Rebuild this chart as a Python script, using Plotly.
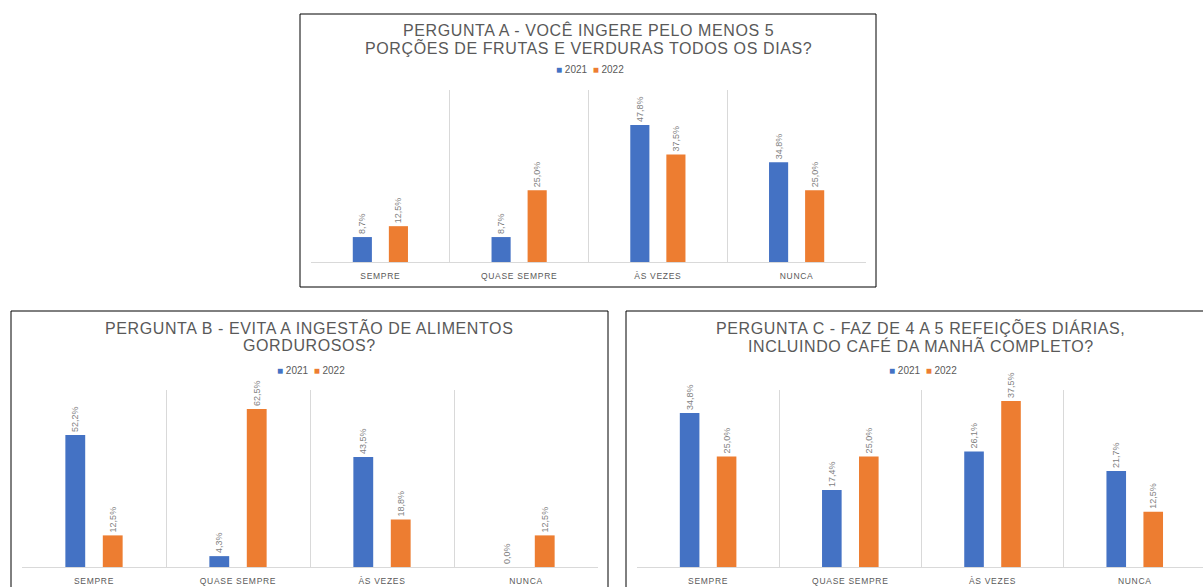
import plotly.graph_objects as go

# Survey answers (% of respondents) per question, 2021 vs 2022
categories = ["SEMPRE", "QUASE SEMPRE", "ÀS VEZES", "NUNCA"]

a_2021 = [8.7, 8.7, 47.8, 34.8]
a_2022 = [12.5, 25.0, 37.5, 25.0]

b_2021 = [52.2, 4.3, 43.5, 0.0]
b_2022 = [12.5, 62.5, 18.8, 12.5]

c_2021 = [34.8, 17.4, 26.1, 21.7]
c_2022 = [25.0, 25.0, 37.5, 12.5]

titles = {
    "A": ["PERGUNTA A - VOCÊ INGERE PELO MENOS 5",
          "PORÇÕES DE FRUTAS E VERDURAS TODOS OS DIAS?"],
    "B": ["PERGUNTA B - EVITA A INGESTÃO DE ALIMENTOS",
          "GORDUROSOS?"],
    "C": ["PERGUNTA C - FAZ DE 4 A 5 REFEIÇÕES DIÁRIAS,",
          "INCLUINDO CAFÉ DA MANHÃ COMPLETO?"],
}

W, H = 1203, 587
BLUE, ORANGE = "#4472C4", "#ED7D31"
GRID = "#D9D9D9"
TEXT = "#595959"
FONT = "Liberation Sans"


def px(x):
    return x / W


def py(y):
    return 1 - y / H


def pct(v):
    return f"{v:.1f}%".replace(".", ",")


def spaced(s, amount):
    return f"<span style='letter-spacing:{amount}px'>{s}</span>"


fig = go.Figure()

panels = [
    # key, series, axis suffix, x-domain px, y-domain px (bottom, top), y max,
    # frame box, title centre x, title line y's, legend y, x range
    ("A", (a_2021, a_2022), "", (311, 866), (262, 90), 60,
     (300, 14, 876, 287), 588, (30, 48), 70, (-0.5, 3.5)),
    ("B", (b_2021, b_2022), "2", (22, 598), (567, 390), 70,
     (11, 311, 608, 595), 309, (327, 345), 370, (-0.5, 3.5)),
    ("C", (c_2021, c_2022), "3", (637, 1203), (567, 390), 40,
     (626, 311, 1215, 595), 921, (327, 345), 370, (-0.5, 3.48)),
]

shapes = []
annotations = []

for key, (s21, s22), sfx, xd, yd, ymax, box, tcx, tys, ly, xr in panels:
    xa, ya = "x" + sfx, "y" + sfx
    for name, vals, col in (("2021", s21, BLUE), ("2022", s22, ORANGE)):
        fig.add_trace(go.Bar(
            x=categories, y=vals, name=name, xaxis=xa, yaxis=ya,
            marker=dict(color=col, line=dict(width=0)),
            text=[pct(v) for v in vals], textposition="outside",
            textangle=-90, constraintext="none", cliponaxis=False,
            textfont=dict(family=FONT, size=9, color="#7F7F7F"),
            showlegend=False,
        ))
    fig.update_layout(**{
        "xaxis" + sfx: dict(
            domain=[px(xd[0]), px(xd[1])], anchor=ya, range=list(xr),
            type="category", tickson="boundaries", showgrid=True,
            gridcolor=GRID, gridwidth=1, showline=True, linecolor=GRID,
            linewidth=1, ticks="", zeroline=False,
            tickvals=categories,
            ticktext=[spaced(c, 0.7) for c in categories],
            ticklabelstandoff=6,
            tickfont=dict(family=FONT, size=8.5, color=TEXT),
            fixedrange=True,
        ),
        "yaxis" + sfx: dict(
            domain=[py(yd[0]), py(yd[1])], anchor=xa, range=[0, ymax],
            showgrid=False, showticklabels=False, zeroline=False,
            showline=False, fixedrange=True,
        ),
    })
    shapes.append(dict(
        type="rect", xref="paper", yref="paper",
        x0=px(box[0]), x1=px(box[2]), y0=py(box[3]), y1=py(box[1]),
        line=dict(color="#000000", width=1), layer="below",
    ))
    for line, ty in zip(titles[key], tys):
        annotations.append(dict(
            text=spaced(line, 0.6), xref="paper", yref="paper",
            x=px(tcx), y=py(ty),
            xanchor="center", yanchor="middle", showarrow=False,
            font=dict(family=FONT, size=16, color=TEXT),
        ))
    annotations.append(dict(
        text=(f"<span style='color:{BLUE}'>■</span> 2021  "
              f"<span style='color:{ORANGE}'>■</span> 2022"),
        xref="paper", yref="paper", x=px(tcx + 2), y=py(ly),
        xanchor="center", yanchor="middle", showarrow=False,
        font=dict(family=FONT, size=10, color=TEXT),
    ))

fig.update_layout(
    width=W, height=H,
    margin=dict(l=0, r=0, t=0, b=0),
    paper_bgcolor="white", plot_bgcolor="white",
    barmode="group", bargap=0.48, bargroupgap=0.47,
    shapes=shapes, annotations=annotations,
    showlegend=False,
)

fig.write_html("out.html")
